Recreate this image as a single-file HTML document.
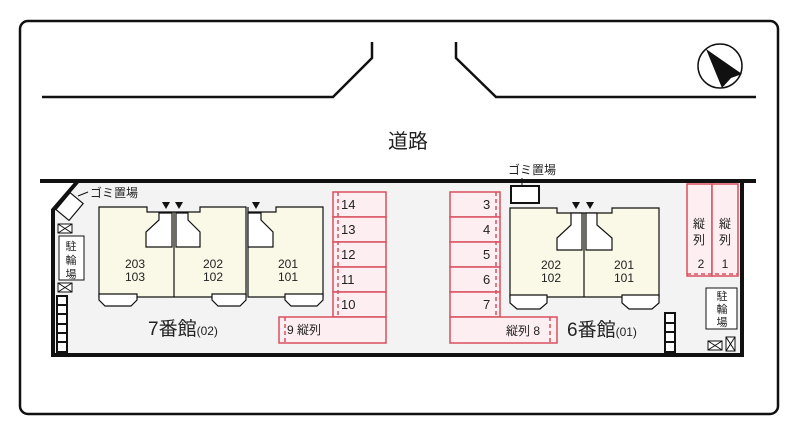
<!DOCTYPE html>
<html><head><meta charset="utf-8"><style>
html,body{margin:0;padding:0;background:#fff;}
svg{display:block;}
text{font-family:"Liberation Sans","Noto Sans CJK JP",sans-serif;fill:#222;}
</style></head><body>
<svg width="800" height="438" viewBox="0 0 800 438" xmlns="http://www.w3.org/2000/svg">
<rect x="20" y="21" width="758" height="393" rx="8" fill="#fff" stroke="#111" stroke-width="2.5"/>
<!-- road -->
<polyline points="42,97 333,97 372,58 372,42" fill="none" stroke="#111" stroke-width="2.5"/>
<polyline points="456,42 456,58 496,97 756,97" fill="none" stroke="#111" stroke-width="2.5"/>
<circle cx="720" cy="66" r="22" fill="#fff" stroke="#111" stroke-width="1.5"/>
<polygon points="706,49 742,74 731,78 722,88" fill="#111"/>
<text x="408" y="148" font-size="20" text-anchor="middle">道路</text>
<!-- lot -->
<polygon points="78,181 742,181 742,355 53,355 53,210" fill="#f3f3f3"/>
<line x1="40" y1="181" x2="756" y2="181" stroke="#111" stroke-width="4"/>
<polyline points="78,181 53,210 53,355 742,355 742,181" fill="none" stroke="#111" stroke-width="4"/>
<!-- left gomi -->
<rect x="62" y="197" width="17" height="22" transform="rotate(40 72 206)" fill="#fff" stroke="#111" stroke-width="1.2"/>
<line x1="78" y1="196" x2="88" y2="192" stroke="#111"/>
<text x="90" y="197" font-size="12">ゴミ置場</text>
<!-- left bike -->
<rect x="58" y="224" width="14" height="9" fill="#fff" stroke="#111"/><path d="M58,224 L72,233 M72,224 L58,233" stroke="#111"/>
<rect x="59" y="236" width="25" height="44" fill="#fff" stroke="#111"/>
<text x="71" y="250" font-size="11" text-anchor="middle">駐</text>
<text x="71" y="264" font-size="11" text-anchor="middle">輪</text>
<text x="71" y="278" font-size="11" text-anchor="middle">場</text>
<rect x="58" y="283" width="14" height="9" fill="#fff" stroke="#111"/><path d="M58,283 L72,292 M72,283 L58,292" stroke="#111"/>
<rect x="57" y="296" width="10" height="56" fill="#fff" stroke="#111" stroke-width="2"/>
<path d="M57,305 H67 M57,314 H67 M57,324 H67 M57,333 H67 M57,342 H67" stroke="#111" stroke-width="2"/>
<!-- building 7 -->
<g stroke="#111" stroke-width="1.2">
<polygon points="99,207 147,207 147,212 200,212 200,207 246,207 246,297 99,297" fill="#faf8e6"/>
<polygon points="248,207 248,212 276,212 276,207 323,207 323,297 248,297" fill="#faf8e6"/>
<polygon points="159,213 172,213 172,247 146,247 146,232 159,220" fill="#fff"/>
<polygon points="176,213 188,213 188,220 200,232 200,247 176,247" fill="#fff"/>
<polygon points="261,213 261,220 273,232 273,247 248,247 248,213" fill="#fff"/>
<line x1="174" y1="212" x2="174" y2="297"/>
<polygon points="99,294 137,294 137,300 131,306 105,306 99,300" fill="#fff"/>
<polygon points="212,294 246,294 246,300 240,306 218,306 212,300" fill="#fff"/>
<polygon points="285,294 323,294 323,300 317,306 291,306 285,300" fill="#fff"/>
</g>
<g fill="#111"><polygon points="162,202 170,202 166,209"/><polygon points="175,202 183,202 179,209"/><polygon points="252,202 260,202 256,209"/>
<polygon points="572,202 580,202 576,209"/><polygon points="586,202 594,202 590,209"/></g>
<text x="135" y="268" font-size="12" text-anchor="middle">203</text><text x="135" y="281" font-size="12" text-anchor="middle">103</text>
<text x="213" y="268" font-size="12" text-anchor="middle">202</text><text x="213" y="281" font-size="12" text-anchor="middle">102</text>
<text x="288" y="268" font-size="12" text-anchor="middle">201</text><text x="288" y="281" font-size="12" text-anchor="middle">101</text>
<text x="148" y="335" font-size="19">7番館<tspan font-size="12">(02)</tspan></text>
<!-- parking 7 -->
<g fill="#fdeef1" stroke="#d9505f" stroke-width="1.5">
<rect x="333" y="192" width="53" height="25"/><rect x="333" y="217" width="53" height="25"/>
<rect x="333" y="242" width="53" height="25"/><rect x="333" y="267" width="53" height="25"/>
<rect x="333" y="292" width="53" height="25"/><rect x="279" y="317" width="107" height="26"/>
<path d="M338,192 V317 M285,317 V343" stroke-dasharray="4,3" fill="none"/>
</g>
<g font-size="13"><text x="341" y="209">14</text><text x="341" y="234">13</text><text x="341" y="259">12</text><text x="341" y="284">11</text><text x="341" y="309">10</text></g>
<text x="287" y="334" font-size="12">9 縦列</text>
<!-- building 6 -->
<rect x="511" y="186" width="28" height="17" fill="#fff" stroke="#111" stroke-width="2"/>
<line x1="522" y1="178" x2="522" y2="186" stroke="#111"/>
<text x="532" y="174" font-size="12" text-anchor="middle">ゴミ置場</text>
<g stroke="#111" stroke-width="1.2">
<polygon points="510,208 557,208 557,213 612,213 612,208 659,208 659,297 510,297" fill="#faf8e6"/>
<polygon points="571,213 582,213 582,250 557,250 557,238 571,225" fill="#fff"/>
<polygon points="586,213 597,213 597,225 612,238 612,250 586,250" fill="#fff"/>
<line x1="584" y1="213" x2="584" y2="297"/>
<polygon points="510,295 547,295 547,303 540,309 517,309 510,303" fill="#fff"/>
<polygon points="622,295 659,295 659,303 652,309 629,309 622,303" fill="#fff"/>
</g>
<text x="551" y="269" font-size="12" text-anchor="middle">202</text><text x="551" y="282" font-size="12" text-anchor="middle">102</text>
<text x="624" y="269" font-size="12" text-anchor="middle">201</text><text x="624" y="282" font-size="12" text-anchor="middle">101</text>
<text x="567" y="336" font-size="19">6番館<tspan font-size="12">(01)</tspan></text>
<!-- parking 6 -->
<g fill="#fdeef1" stroke="#d9505f" stroke-width="1.5">
<rect x="450" y="192" width="50" height="25"/><rect x="450" y="217" width="50" height="25"/>
<rect x="450" y="242" width="50" height="25"/><rect x="450" y="267" width="50" height="25"/>
<rect x="450" y="292" width="50" height="25"/><rect x="450" y="317" width="107" height="26"/>
<rect x="687" y="184" width="25" height="92"/><rect x="712" y="184" width="26" height="92"/>
<path d="M496,192 V317 M550,317 V343 M687,274 H738" stroke-dasharray="4,3" fill="none"/>
</g>
<g font-size="13"><text x="483" y="209">3</text><text x="483" y="234">4</text><text x="483" y="259">5</text><text x="483" y="284">6</text><text x="483" y="309">7</text></g>
<text x="506" y="335" font-size="12">縦列 8</text>
<g font-size="12" text-anchor="middle"><text x="699" y="228">縦</text><text x="699" y="244">列</text><text x="701" y="268">2</text>
<text x="725" y="228">縦</text><text x="725" y="244">列</text><text x="725" y="268">1</text></g>
<rect x="706" y="288" width="31" height="41" fill="#fff" stroke="#111"/>
<text x="722" y="300" font-size="11" text-anchor="middle">駐</text>
<text x="722" y="313" font-size="11" text-anchor="middle">輪</text>
<text x="722" y="326" font-size="11" text-anchor="middle">場</text>
<rect x="708" y="341" width="14" height="9" fill="#fff" stroke="#111"/><path d="M708,341 L722,350 M722,341 L708,350" stroke="#111"/>
<rect x="726" y="337" width="9" height="14" fill="#fff" stroke="#111"/><path d="M726,337 L735,351 M735,337 L726,351" stroke="#111"/>
<rect x="665" y="313" width="10" height="39" fill="#fff" stroke="#111" stroke-width="2"/>
<path d="M665,323 H675 M665,332 H675 M665,342 H675" stroke="#111" stroke-width="2"/>
</svg>
</body></html>
